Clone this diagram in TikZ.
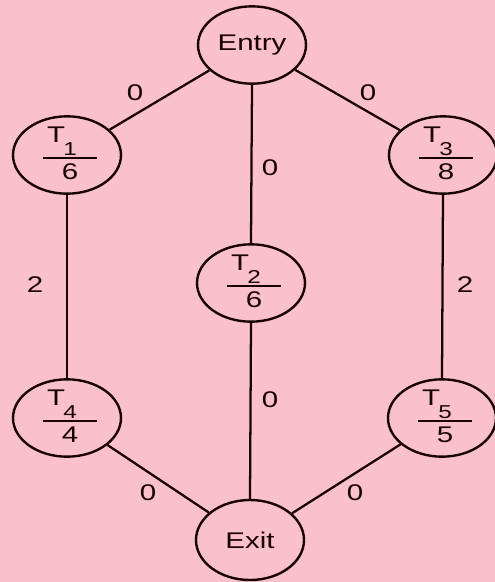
\documentclass[tikz,border=0pt]{standalone}
\usepackage{fontspec}
\setmainfont{Liberation Sans}
\newfontfamily\wfont[FakeStretch=1.3]{Liberation Sans}
\usetikzlibrary{shapes.geometric,calc}
\definecolor{bg}{RGB}{250,192,203}
\definecolor{ink}{RGB}{25,2,2}
\tikzset{
  state/.style={ellipse, draw=ink, line width=1.8pt, minimum width=81pt, minimum height=58pt, inner sep=0pt, text=ink, font=\wfont\fontsize{17}{17}\selectfont},
  conn/.style={draw=ink, line width=1.7pt},
  frac/.style={draw=ink, line width=1.5pt},
  lbl/.style={text=ink, inner sep=0pt, font=\wfont\fontsize{17}{17}\selectfont},
  sublbl/.style={text=ink, inner sep=0pt, font=\wfont\fontsize{14}{14}\selectfont},
}
\newcommand\tstate[4]{%
  \node[state] (#1) at (#2) {};
  \node[lbl] (#1T) at ($(#1)+(-11,-20)$) {T};
  \node[sublbl] (#1s) at ($(#1)+(3,-6)$) {#3};
  \coordinate (#1a) at ($(#1)+(-24,3)$);
  \coordinate (#1b) at ($(#1)+(30,3)$);
  \draw[frac] (#1a) -- (#1b);
  \node[lbl] (#1v) at ($(#1)+(3,17)$) {#4};
}
\begin{document}
\begin{tikzpicture}[x=0.75pt,y=-0.75pt]
\fill[bg] (0,0) rectangle (495,582);
\useasboundingbox (0,0) rectangle (495,582);
\node[state] (entry) at (252,45) {Entry};
\tstate{t1}{67,155}{1}{6}
\tstate{t2}{251,283}{2}{6}
\tstate{t3}{443,155}{3}{8}
\tstate{t4}{67,418}{4}{4}
\tstate{t5}{442,418}{5}{5}
\node[state, minimum height=60pt] (exit) at (250,540) {Exit};
\draw[conn] (entry) -- (t1);
\draw[conn] (entry) -- (t3);
\draw[conn] (entry.south) -- (t2.north);
\draw[conn] (t1.south) -- (t4.north);
\draw[conn] (t3.south) -- (t5.north);
\draw[conn] (t2.south) -- (exit.north);
\draw[conn] (t4) -- (exit);
\draw[conn] (t5) -- (exit);
\node[lbl] (l1) at (135,93) {0};
\node[lbl] (l2) at (368,93) {0};
\node[lbl] (l3) at (270,168) {0};
\node[lbl] (l4) at (35,285) {2};
\node[lbl] (l5) at (465,285) {2};
\node[lbl] (l6) at (270,400) {0};
\node[lbl] (l7) at (148,493) {0};
\node[lbl] (l8) at (355,493) {0};
\end{tikzpicture}
\end{document}
